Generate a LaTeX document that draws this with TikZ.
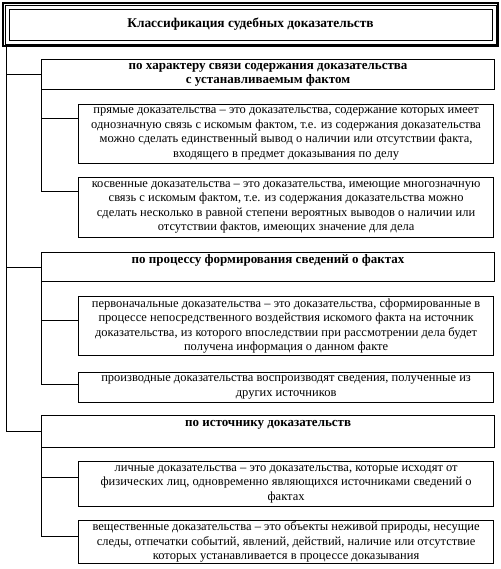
\documentclass[tikz,border=0pt]{standalone}
\usepackage{fontspec}
\setmainfont{Liberation Serif}
\usetikzlibrary{positioning}

\begin{document}
\begin{tikzpicture}[x=1pt,y=-1pt,
  group/.style={rectangle,draw,line width=1.2pt,anchor=north west,align=center,
    minimum width=453pt,inner xsep=2pt,inner ysep=1pt,font=\bfseries\fontsize{13}{14.5}\selectfont},
  item/.style={rectangle,draw,line width=1.2pt,anchor=north west,align=center,
    minimum width=415pt,inner xsep=2pt,inner ysep=1pt,font=\fontsize{12.5}{14.5}\selectfont},
  link/.style={line width=1pt}]
\useasboundingbox (0,0) rectangle (500,569);

% title with triple frame
\node (title) [rectangle,draw,line width=2pt,anchor=north west,minimum width=495pt,
  minimum height=43pt,font=\bfseries\fontsize{13.4}{15}\selectfont] at (2,2)
  {Классификация судебных доказательств};
\draw[line width=0.8pt] ([shift={(3pt,-3pt)}]title.north west) rectangle ([shift={(-3pt,3pt)}]title.south east);
\draw[line width=0.8pt] ([shift={(7pt,-7pt)}]title.north west) rectangle ([shift={(-7pt,7pt)}]title.south east);

% first group
\node (g1) [group,minimum height=30pt] at (41,59)
  {по характеру связи содержания доказательства\\ с устанавливаемым фактом};
\node (i1) [item,minimum height=59pt] at (78,104)
  {прямые доказательства – это доказательства, содержание которых имеет\\
   однозначную связь с искомым фактом, т.е. из содержания доказательства\\
   можно сделать единственный вывод о наличии или отсутствии факта,\\
   входящего в предмет доказывания по делу};
\node (i2) [item,minimum height=60pt] at (78,177)
  {косвенные доказательства – это доказательства, имеющие многозначную\\
   связь с искомым фактом, т.е. из содержания доказательства можно\\
   сделать несколько в равной степени вероятных выводов о наличии или\\
   отсутствии фактов, имеющих значение для дела};

% second group
\node (g2) [group,text height=10pt,text depth=17pt] at (41,252)
  {по процессу формирования сведений о фактах};
\node (i3) [item,minimum height=59pt] at (78,296)
  {первоначальные доказательства – это доказательства, сформированные в\\
   процессе непосредственного воздействия искомого факта на источник\\
   доказательства, из которого впоследствии при рассмотрении дела будет\\
   получена информация о данном факте};
\node (i4) [item,minimum height=30pt] at (78,372)
  {производные доказательства воспроизводят сведения, полученные из\\
   других источников};

% third group
\node (g3) [group,text height=10pt,text depth=20pt] at (41,415)
  {по источнику доказательств};
\node (i5) [item,minimum height=45pt] at (78,461)
  {личные доказательства – это доказательства, которые исходят от\\
   физических лиц, одновременно являющихся источниками сведений о\\
   фактах};
\node (i6) [item,minimum height=43pt] at (78,520)
  {вещественные доказательства – это объекты неживой природы, несущие\\
   следы, отпечатки событий, явлений, действий, наличие или отсутствие\\
   которых устанавливается в процессе доказывания};

% connectors
\coordinate (trunk) at (title.south -| 6,0);
\draw[link] (trunk) |- (g1.west);
\draw[link] (trunk) |- (g2.west);
\draw[link] (trunk) |- (g3.west);
\draw[link] (g1.south west) |- ([yshift=-15pt]i1.north west);
\draw[link] (g1.south west) |- ([yshift=-15pt]i2.north west);
\draw[link] (g2.south west) |- ([yshift=-24pt]i3.north west);
\draw[link] (g2.south west) |- ([yshift=-12pt]i4.north west);
\draw[link] (g3.south west) |- ([yshift=-16pt]i5.north west);
\draw[link] (g3.south west) |- ([yshift=-16pt]i6.north west);
\end{tikzpicture}
\end{document}
